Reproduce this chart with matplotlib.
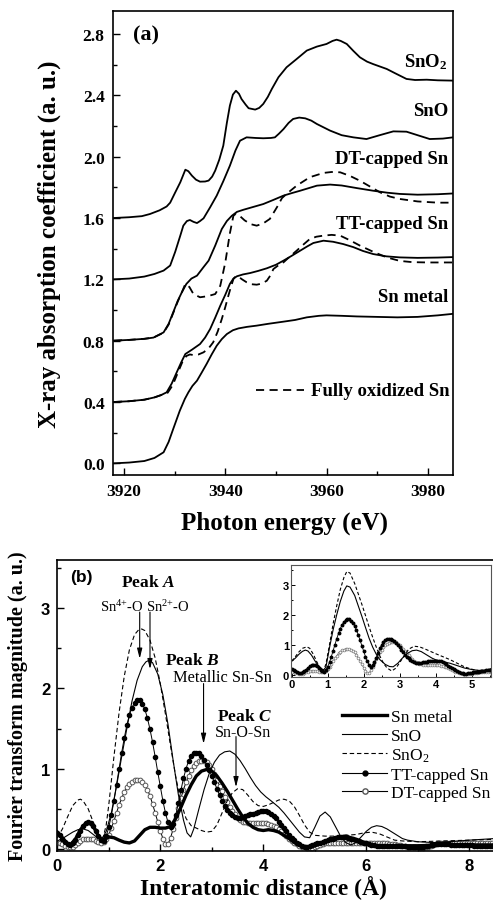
import numpy as np
import matplotlib
matplotlib.use("Agg")
import matplotlib.pyplot as plt
from matplotlib.lines import Line2D
from matplotlib.ticker import MultipleLocator

plt.rcParams['font.family'] = ['Liberation Serif', 'DejaVu Serif']
plt.rcParams['mathtext.fontset'] = 'custom'
plt.rcParams['mathtext.rm'] = 'Liberation Serif'
plt.rcParams['mathtext.it'] = 'Liberation Serif:italic'
plt.rcParams['mathtext.bf'] = 'Liberation Serif:bold'
plt.rcParams['mathtext.bfit'] = 'Liberation Serif:bold:italic'

# ---------------- panel (a): XANES, offset spectra ----------------
e_metal = [3918, 3921, 3924, 3926, 3927.8, 3928.8, 3929.7, 3931.0, 3932.0, 3932.7, 3933.5, 3934.4,
           3935.3, 3936.3, 3937.3, 3938.3, 3939.3, 3940.3, 3941.5, 3942.6, 3944.3, 3946.2, 3948.5,
           3951.5, 3953.8, 3956.1, 3958.5, 3960, 3963, 3966, 3970, 3974, 3978, 3982, 3985]
mu_metal = [0.0, 0.005, 0.015, 0.035, 0.072, 0.14, 0.224, 0.343, 0.42, 0.463, 0.505, 0.539,
            0.59, 0.648, 0.71, 0.767, 0.81, 0.843, 0.868, 0.88, 0.89, 0.898, 0.91,
            0.924, 0.935, 0.952, 0.962, 0.965, 0.962, 0.958, 0.955, 0.952, 0.955, 0.965, 0.975]

e_tt = [3918, 3921, 3924, 3926, 3927.3, 3928.4, 3929.4, 3930.4, 3931.3, 3932.1, 3933.4, 3935.0,
        3936.0, 3937.0, 3938.0, 3939.0, 3940.0, 3940.9, 3941.6, 3942.3, 3943.5, 3944.9, 3946.5,
        3948.2, 3950, 3951.5, 3953.2, 3954.8, 3956.2, 3957.4, 3959.4, 3961.3, 3963.3, 3965.3,
        3967.2, 3969.2, 3971.8, 3974.5, 3978, 3982, 3985]
mu_tt = [0.40, 0.405, 0.415, 0.43, 0.445, 0.463, 0.52, 0.594, 0.66, 0.713, 0.741, 0.778,
         0.82, 0.876, 0.95, 1.028, 1.10, 1.17, 1.205, 1.22, 1.232, 1.241, 1.255,
         1.272, 1.295, 1.322, 1.355, 1.387, 1.415, 1.437, 1.452, 1.445, 1.43, 1.41,
         1.385, 1.365, 1.35, 1.343, 1.34, 1.342, 1.345]

e_tt_ox = [3918, 3921, 3924, 3926, 3927.3, 3928.6, 3929.6, 3930.6, 3931.5, 3932.3, 3933.0, 3933.7,
           3934.7, 3935.7, 3936.7, 3937.6, 3938.5, 3939.3, 3940.0, 3940.6, 3941.1, 3941.6, 3942.0,
           3942.5, 3943.3, 3944.2, 3945.2, 3946.2, 3947.2, 3948.2, 3948.9, 3949.5, 3950.5, 3951.5,
           3952.8, 3954.1, 3955.4, 3956.7, 3958, 3959.4, 3961, 3962.7, 3964.6, 3966.6, 3969.2,
           3971.9, 3974.5, 3977, 3980, 3985]
mu_tt_ox = [0.40, 0.405, 0.415, 0.43, 0.445, 0.46, 0.51, 0.59, 0.66, 0.70, 0.71, 0.706,
            0.71, 0.724, 0.75, 0.789, 0.86, 0.941, 1.02, 1.093, 1.15, 1.202, 1.218,
            1.22, 1.20, 1.181, 1.168, 1.165, 1.172, 1.191, 1.225, 1.267, 1.292, 1.311,
            1.35, 1.387, 1.426, 1.463, 1.478, 1.485, 1.49, 1.485, 1.455, 1.42, 1.38,
            1.343, 1.32, 1.312, 1.31, 1.31]

e_dt = [3918, 3921, 3924, 3925.8, 3927.8, 3928.8, 3929.7, 3930.6, 3931.4, 3932.3, 3933.3, 3934.4,
        3935.7, 3936.7, 3938.0, 3939.3, 3940.3, 3941.3, 3942.3, 3943.6, 3945.5, 3947.5, 3949.5,
        3951.5, 3953.2, 3954.8, 3956.5, 3958.1, 3960.7, 3963, 3966, 3969.2, 3972, 3974.5, 3978,
        3982, 3985]
mu_dt = [0.80, 0.805, 0.812, 0.82, 0.854, 0.91, 0.985, 1.06, 1.115, 1.17, 1.205, 1.224,
         1.28, 1.322, 1.42, 1.528, 1.58, 1.615, 1.64, 1.654, 1.672, 1.691, 1.718,
         1.746, 1.763, 1.778, 1.795, 1.811, 1.818, 1.812, 1.795, 1.778, 1.765, 1.757, 1.752,
         1.755, 1.76]

e_dt_ox = [3918, 3921, 3924, 3925.8, 3927.8, 3928.8, 3929.7, 3930.6, 3931.4, 3932.1, 3932.9, 3933.7,
           3935.0, 3936.5, 3938.0, 3939.0, 3940.0, 3940.9, 3941.6, 3942.1, 3942.8, 3943.8, 3945,
           3946.2, 3947.5, 3948.8, 3950.2, 3951.2, 3952.1, 3954.1, 3956.7, 3959.4, 3961, 3962.7,
           3964.6, 3966.6, 3968.6, 3970.6, 3972.5, 3974.5, 3978, 3982, 3985]
mu_dt_ox = [0.80, 0.805, 0.812, 0.82, 0.852, 0.905, 0.98, 1.055, 1.115, 1.17, 1.15, 1.104,
            1.083, 1.09, 1.104, 1.158, 1.311, 1.50, 1.615, 1.628, 1.615, 1.585, 1.56,
            1.55, 1.565, 1.594, 1.67, 1.73, 1.757, 1.811, 1.866, 1.894, 1.90, 1.898,
            1.875, 1.843, 1.805, 1.767, 1.74, 1.724, 1.708, 1.70, 1.70]

e_sno = [3918, 3921, 3924, 3926, 3927.8, 3929.1, 3930.1, 3931.1, 3931.7, 3932.4, 3933.0, 3933.7,
         3934.4, 3935.0, 3935.7, 3937.0, 3938.3, 3939.6, 3940.9, 3942.0, 3942.9, 3944.2, 3946,
         3947.5, 3949.0, 3949.8, 3950.6, 3951.5, 3952.5, 3953.4, 3954.6, 3955.8, 3957, 3958.1,
         3960.7, 3963, 3965.3, 3967.9, 3970.5, 3973.2, 3975.8, 3978, 3980.4, 3983, 3985]
mu_sno = [1.20, 1.205, 1.218, 1.235, 1.257, 1.29, 1.38, 1.485, 1.55, 1.58, 1.587, 1.575,
          1.567, 1.58, 1.598, 1.67, 1.746, 1.84, 1.941, 2.04, 2.104, 2.126, 2.122,
          2.12, 2.122, 2.126, 2.15, 2.18, 2.22, 2.246, 2.255, 2.25, 2.235, 2.213,
          2.17, 2.14, 2.126, 2.115, 2.14, 2.165, 2.163, 2.14, 2.115, 2.118, 2.126]

e_sno2 = [3918, 3921, 3923.5, 3925.1, 3927, 3928.4, 3929.1, 3930.1, 3931.1, 3932.1, 3932.7, 3933.4,
          3934.2, 3935.0, 3936.0, 3936.7, 3937.4, 3938.0, 3938.8, 3939.6, 3940.3, 3940.9, 3941.5,
          3942.1, 3942.7, 3943.2, 3944.0, 3944.6, 3945.9, 3946.7, 3947.5, 3948.4, 3949.2, 3950.5,
          3952.1, 3954.1, 3956.1, 3958.1, 3960.0, 3961.2, 3962, 3962.8, 3964, 3965.3, 3966.6,
          3968, 3969.2, 3971.9, 3973.5, 3975.8, 3977.5, 3979.8, 3982, 3985]
mu_sno2 = [1.60, 1.605, 1.612, 1.626, 1.65, 1.675, 1.70, 1.767, 1.833, 1.915, 1.905, 1.876,
           1.85, 1.837, 1.838, 1.844, 1.87, 1.909, 1.98, 2.072, 2.22, 2.333, 2.405,
           2.43, 2.41, 2.376, 2.34, 2.316, 2.307, 2.318, 2.344, 2.39, 2.442, 2.518,
           2.583, 2.637, 2.692, 2.718, 2.735, 2.755, 2.763, 2.755, 2.735, 2.69, 2.648,
           2.62, 2.604, 2.572, 2.545, 2.507, 2.50, 2.502, 2.498, 2.496]

names_a = ['SnO$_\\mathbf{2}$', 'SnO', 'DT-capped Sn', 'TT-capped Sn', 'Sn metal']
label_y_a = [2.62, 2.30, 1.985, 1.567, 1.09]

# ---------------- panel (b): Fourier transforms ----------------
r_metal = [0.0, 0.1, 0.2, 0.25, 0.35, 0.45, 0.55, 0.62, 0.7, 0.8, 0.88, 0.95, 1.0, 1.1, 1.2, 1.3,
           1.4, 1.5, 1.6, 1.7, 1.8, 1.9, 2.0, 2.1, 2.2, 2.3, 2.4, 2.5, 2.6, 2.7, 2.8, 2.9, 3.0,
           3.1, 3.2, 3.3, 3.4, 3.5, 3.6, 3.7, 3.8, 3.9, 4.0, 4.1, 4.2, 4.3, 4.4, 4.5, 4.6, 4.7,
           4.8, 4.9, 5.0, 5.2, 5.4, 5.6, 5.8, 6.0, 6.2, 6.4, 6.6, 6.8, 7.0, 7.5, 8.0, 8.5]
ft_metal = [0.21, 0.14, 0.06, 0.05, 0.12, 0.24, 0.32, 0.33, 0.28, 0.16, 0.11, 0.13, 0.15, 0.14,
            0.11, 0.085, 0.075, 0.10, 0.17, 0.24, 0.27, 0.27, 0.26, 0.26, 0.28, 0.38, 0.52,
            0.67, 0.80, 0.91, 0.97, 0.99, 0.97, 0.91, 0.82, 0.72, 0.61, 0.50, 0.40, 0.32, 0.27,
            0.24, 0.23, 0.24, 0.23, 0.21, 0.17, 0.13, 0.08, 0.05, 0.03, 0.02, 0.04, 0.09, 0.14,
            0.16, 0.12, 0.07, 0.03, 0.02, 0.03, 0.04, 0.04, 0.05, 0.05, 0.05]

r_sno = [0.0, 0.1, 0.2, 0.3, 0.4, 0.5, 0.6, 0.7, 0.8, 0.86, 0.95, 1.05, 1.15, 1.25, 1.35, 1.45,
         1.55, 1.65, 1.72, 1.78, 1.85, 1.95, 2.05, 2.15, 2.25, 2.35, 2.45, 2.52, 2.59, 2.65,
         2.75, 2.85, 2.95, 3.05, 3.15, 3.25, 3.35, 3.45, 3.55, 3.65, 3.75, 3.85, 3.95, 4.05,
         4.15, 4.3, 4.4, 4.5, 4.6, 4.7, 4.8, 4.9, 5.0, 5.1, 5.2, 5.3, 5.4, 5.5, 5.6, 5.7, 5.8,
         5.9, 6.0, 6.1, 6.2, 6.3, 6.4, 6.5, 6.6, 6.7, 6.8, 7.0, 7.3, 7.6, 8.0, 8.5]
ft_sno = [0.10, 0.13, 0.17, 0.21, 0.24, 0.25, 0.23, 0.18, 0.13, 0.12, 0.22, 0.45, 0.78, 1.15,
          1.50, 1.84, 2.10, 2.27, 2.33, 2.35, 2.32, 2.18, 1.92, 1.55, 1.10, 0.68, 0.36, 0.20,
          0.15, 0.25, 0.50, 0.74, 0.94, 1.08, 1.17, 1.21, 1.22, 1.18, 1.10, 1.00, 0.89, 0.79,
          0.71, 0.65, 0.60, 0.52, 0.45, 0.37, 0.29, 0.21, 0.15, 0.14, 0.27, 0.41, 0.46, 0.40,
          0.28, 0.16, 0.08, 0.05, 0.08, 0.15, 0.22, 0.27, 0.29, 0.28, 0.25, 0.21, 0.17, 0.13,
          0.11, 0.09, 0.08, 0.09, 0.11, 0.13]

r_sno2 = [0.0, 0.1, 0.2, 0.3, 0.4, 0.45, 0.5, 0.6, 0.7, 0.8, 0.88, 0.95, 1.0, 1.05, 1.1, 1.2,
          1.3, 1.4, 1.5, 1.58, 1.64, 1.7, 1.8, 1.9, 2.0, 2.1, 2.2, 2.3, 2.4, 2.5, 2.6, 2.7,
          2.8, 2.9, 3.0, 3.1, 3.2, 3.3, 3.4, 3.5, 3.6, 3.7, 3.8, 3.9, 4.0, 4.1, 4.2, 4.3, 4.4,
          4.5, 4.6, 4.7, 4.8, 4.9, 5.0, 5.2, 5.4, 5.6, 5.8, 5.95, 6.1, 6.25, 6.4, 6.55, 6.7,
          7.0, 7.5, 8.0, 8.5]
ft_sno2 = [0.14, 0.25, 0.40, 0.54, 0.61, 0.62, 0.60, 0.50, 0.33, 0.17, 0.11, 0.30, 0.55, 0.85,
           1.15, 1.70, 2.15, 2.48, 2.67, 2.73, 2.74, 2.72, 2.60, 2.38, 2.06, 1.68, 1.28, 0.90,
           0.58, 0.38, 0.29, 0.26, 0.23, 0.21, 0.22, 0.30, 0.45, 0.60, 0.70, 0.75, 0.74, 0.67,
           0.59, 0.54, 0.53, 0.55, 0.58, 0.61, 0.62, 0.60, 0.53, 0.42, 0.30, 0.21, 0.17, 0.16,
           0.16, 0.17, 0.18, 0.20, 0.21, 0.19, 0.15, 0.11, 0.10, 0.09, 0.10, 0.11, 0.12]

# TT and DT sampled every 0.05 A from 0 to 8.5
r_step = 0.05
ft_tt = [0.20, 0.17, 0.13, 0.09, 0.06, 0.05, 0.07, 0.11, 0.17, 0.23,
         0.28, 0.32, 0.33, 0.32, 0.28, 0.22, 0.16, 0.11, 0.10, 0.16,
         0.27, 0.42, 0.60, 0.80, 1.00, 1.20, 1.38, 1.54, 1.67, 1.76,
         1.82, 1.85, 1.85, 1.81, 1.74, 1.63, 1.49, 1.33, 1.15, 0.96,
         0.78, 0.60, 0.45, 0.33, 0.27, 0.31, 0.42, 0.57, 0.73, 0.88,
         1.00, 1.10, 1.16, 1.19, 1.20, 1.19, 1.16, 1.11, 1.05, 0.98,
         0.91, 0.83, 0.75, 0.67, 0.60, 0.54, 0.49, 0.45, 0.42, 0.40,
         0.39, 0.39, 0.40, 0.41, 0.42, 0.43, 0.44, 0.45, 0.46, 0.47,
         0.47, 0.47, 0.46, 0.44, 0.41, 0.38, 0.34, 0.30, 0.26, 0.22,
         0.18, 0.14, 0.11, 0.08, 0.06, 0.04, 0.03, 0.03, 0.04, 0.05,
         0.06, 0.07, 0.08, 0.09, 0.10, 0.11, 0.12, 0.13, 0.14, 0.15,
         0.15, 0.15, 0.15, 0.14, 0.13, 0.12, 0.11, 0.10, 0.09, 0.08,
         0.07, 0.06, 0.05, 0.05, 0.04, 0.04, 0.04, 0.04, 0.04, 0.04,
         0.04, 0.04, 0.04, 0.04, 0.04, 0.04, 0.03, 0.03, 0.03, 0.03,
         0.03, 0.03, 0.03, 0.04, 0.04, 0.05, 0.05, 0.06, 0.06, 0.06,
         0.06, 0.06, 0.06, 0.05, 0.05, 0.05, 0.05, 0.05, 0.05, 0.05,
         0.05, 0.05, 0.04, 0.04, 0.04, 0.04, 0.04, 0.04, 0.04, 0.04,
         0.04]
ft_dt = [0.07, 0.07, 0.06, 0.04, 0.03, 0.02, 0.03, 0.05, 0.08, 0.10,
         0.12, 0.13, 0.13, 0.13, 0.12, 0.10, 0.09, 0.08, 0.09, 0.12,
         0.18, 0.26, 0.35, 0.45, 0.55, 0.63, 0.71, 0.77, 0.81, 0.84,
         0.86, 0.86, 0.86, 0.84, 0.80, 0.74, 0.66, 0.56, 0.45, 0.34,
         0.23, 0.13, 0.06, 0.06, 0.14, 0.25, 0.38, 0.51, 0.63, 0.74,
         0.83, 0.91, 0.98, 1.03, 1.07, 1.09, 1.10, 1.10, 1.08, 1.04,
         0.99, 0.93, 0.86, 0.79, 0.72, 0.65, 0.58, 0.52, 0.47, 0.43,
         0.39, 0.36, 0.34, 0.33, 0.32, 0.32, 0.32, 0.32, 0.32, 0.32,
         0.32, 0.32, 0.31, 0.30, 0.29, 0.27, 0.25, 0.22, 0.19, 0.16,
         0.13, 0.10, 0.08, 0.06, 0.04, 0.03, 0.02, 0.01, 0.01, 0.01,
         0.02, 0.04, 0.05, 0.06, 0.07, 0.07, 0.08, 0.08, 0.08, 0.08,
         0.08, 0.08, 0.08, 0.08, 0.08, 0.08, 0.08, 0.08, 0.08, 0.08,
         0.08, 0.08, 0.08, 0.07, 0.07, 0.07, 0.07, 0.07, 0.07, 0.06,
         0.06, 0.06, 0.05, 0.05, 0.04, 0.04, 0.03, 0.03, 0.02, 0.02,
         0.02, 0.01, 0.01, 0.02, 0.03, 0.04, 0.05, 0.06, 0.07, 0.07,
         0.08, 0.08, 0.08, 0.08, 0.08, 0.08, 0.07, 0.07, 0.07, 0.07,
         0.07, 0.07, 0.07, 0.07, 0.07, 0.07, 0.07, 0.08, 0.08, 0.08,
         0.08]
r_grid = np.arange(len(ft_tt)) * r_step

# inset: SnO and SnO2 with another normalisation
r_in_sno = [0.0, 0.1, 0.2, 0.3, 0.38, 0.45, 0.55, 0.65, 0.75, 0.88, 0.95, 1.05, 1.15, 1.25, 1.35,
            1.45, 1.53, 1.62, 1.75, 1.85, 1.95, 2.05, 2.15, 2.25, 2.35, 2.45, 2.6, 2.72, 2.82,
            2.95, 3.05, 3.2, 3.35, 3.47, 3.6, 3.75, 3.9, 4.05, 4.2, 4.4, 4.6, 4.8, 5.0, 5.2,
            5.4, 5.55]
ft_in_sno = [0.45, 0.55, 0.68, 0.78, 0.82, 0.79, 0.65, 0.45, 0.28, 0.15, 0.25, 0.90, 1.50, 2.00,
             2.45, 2.80, 2.97, 2.93, 2.65, 2.30, 1.95, 1.58, 1.22, 0.92, 0.68, 0.50, 0.34,
             0.27, 0.26, 0.38, 0.52, 0.70, 0.80, 0.82, 0.77, 0.66, 0.55, 0.47, 0.43, 0.38,
             0.30, 0.22, 0.17, 0.14, 0.15, 0.20]
r_in_sno2 = [0.0, 0.1, 0.2, 0.3, 0.42, 0.5, 0.6, 0.7, 0.8, 0.88, 0.95, 1.05, 1.15, 1.25, 1.35,
             1.45, 1.53, 1.62, 1.75, 1.85, 1.95, 2.05, 2.15, 2.25, 2.35, 2.45, 2.55, 2.65, 2.78,
             2.9, 3.0, 3.12, 3.25, 3.4, 3.55, 3.7, 3.85, 4.0, 4.2, 4.4, 4.6, 4.8, 4.95, 5.1,
             5.3, 5.55]
ft_in_sno2 = [0.45, 0.60, 0.76, 0.88, 0.93, 0.88, 0.68, 0.42, 0.20, 0.12, 0.35, 1.00, 1.70, 2.30,
              2.85, 3.25, 3.45, 3.40, 3.05, 2.70, 2.35, 1.98, 1.60, 1.25, 0.92, 0.62, 0.38,
              0.22, 0.12, 0.22, 0.40, 0.62, 0.85, 0.95, 0.93, 0.86, 0.78, 0.70, 0.60, 0.50,
              0.38, 0.26, 0.20, 0.15, 0.12, 0.15]

fig = plt.figure(figsize=(4.93, 9.03), dpi=100)

# ======== panel (a) ========
ax1 = fig.add_axes([0.2292, 0.4729, 0.6897, 0.5138])
lw_a = 1.3
dash_a = (0, (4.5, 3))
ax1.plot(e_metal, mu_metal, color='black', lw=lw_a)
ax1.plot(e_tt, mu_tt, color='black', lw=lw_a)
ax1.plot(e_tt_ox, mu_tt_ox, color='black', lw=lw_a, ls=dash_a)
ax1.plot(e_dt, mu_dt, color='black', lw=lw_a)
ax1.plot(e_dt_ox, mu_dt_ox, color='black', lw=lw_a, ls=dash_a)
ax1.plot(e_sno, mu_sno, color='black', lw=lw_a)
ax1.plot(e_sno2, mu_sno2, color='black', lw=lw_a)

ax1.set_xlim(3917.8, 3985)
ax1.set_ylim(-0.076, 2.95)
ax1.xaxis.set_major_locator(MultipleLocator(20))
ax1.xaxis.set_minor_locator(MultipleLocator(10))
ax1.yaxis.set_major_locator(MultipleLocator(0.4))
ax1.yaxis.set_minor_locator(MultipleLocator(0.2))
ax1.yaxis.set_major_formatter(matplotlib.ticker.FormatStrFormatter('%.1f'))
ax1.tick_params(which='both', direction='in', width=1.0)
ax1.tick_params(which='major', length=5, labelsize=12.5, pad=6)
ax1.tick_params(which='minor', length=3)
for lab in ax1.get_xticklabels() + ax1.get_yticklabels():
    lab.set_fontweight('bold')
for sp in ax1.spines.values():
    sp.set_linewidth(1.2)

for name, yy in zip(names_a, label_y_a):
    ax1.text(3984, yy, name, ha='right', va='center', fontsize=13.5, fontweight='bold')
ax1.text(3921.8, 2.8, '(a)', ha='left', va='center', fontsize=16, fontweight='bold')
ax1.plot([3946.1, 3955.6], [0.478, 0.478], color='black', lw=lw_a, ls=dash_a)
ax1.text(3956.9, 0.478, 'Fully oxidized Sn', ha='left', va='center', fontsize=13.5,
         fontweight='bold')

ax1.set_xlabel('Photon energy (eV)', fontsize=18, fontweight='bold')
ax1.set_ylabel('X-ray absorption coefficient (a. u.)', fontsize=18, fontweight='bold')
ax1.xaxis.set_label_coords(0.503, -0.101)
ax1.yaxis.set_label_coords(-0.188, 0.5)
ax1.xaxis.label.set_va('center')
ax1.yaxis.label.set_va('center')

# ======== panel (b) ========
ax2 = fig.add_axes([0.1162, 0.0565, 0.888, 0.3223])
ax2.plot(r_grid, ft_dt, color='black', lw=0.7, marker='o', ms=3.4, mfc='white',
         mec='#555555', mew=0.7)
ax2.plot(r_grid, ft_tt, color='black', lw=0.7, marker='o', ms=3.0, mfc='black', mec='black')
ax2.plot(r_sno2, ft_sno2, color='black', lw=0.8, ls=(0, (4, 2.5)))
ax2.plot(r_sno, ft_sno, color='black', lw=0.8)
ax2.plot(r_metal, ft_metal, color='black', lw=2.4)

ax2.set_xlim(0, 8.5)
ax2.set_ylim(-0.025, 3.6)
ax2.xaxis.set_major_locator(MultipleLocator(2))
ax2.xaxis.set_minor_locator(MultipleLocator(1))
ax2.yaxis.set_major_locator(MultipleLocator(1))
ax2.yaxis.set_minor_locator(MultipleLocator(0.5))
ax2.tick_params(which='both', direction='in', width=1.0)
ax2.tick_params(which='major', length=5, labelsize=12, pad=5)
ax2.tick_params(which='minor', length=3)
for lab in ax2.get_xticklabels() + ax2.get_yticklabels():
    lab.set_fontfamily('Liberation Sans')
    lab.set_fontweight('bold')
for sp in ax2.spines.values():
    sp.set_linewidth(1.2)

ax2.set_xlabel('Interatomic distance (\u00c5)', fontsize=17, fontweight='bold')
ax2.set_ylabel('Fourier transform magnitude (a. u.)', fontsize=14.5, fontweight='bold')
ax2.xaxis.set_label_coords(0.472, -0.124)
ax2.yaxis.set_label_coords(-0.09, 0.5)
ax2.xaxis.label.set_va('center')
ax2.yaxis.label.set_va('center')

ax2.text(0.25, 3.4, '(b)', ha='left', va='center', fontsize=12.5, fontweight='bold',
         family='Liberation Sans')
ax2.text(1.76, 3.33, 'Peak $\\mathbfit{A}$', ha='center', va='center', fontsize=12.5,
         fontweight='bold')
ax2.text(1.25, 3.03, 'Sn$^{4{+}}$-O', ha='center', va='center', fontsize=10.5)
ax2.text(2.15, 3.03, 'Sn$^{2{+}}$-O', ha='center', va='center', fontsize=10.5)
ax2.text(2.61, 2.35, 'Peak $\\mathbfit{B}$', ha='center', va='center', fontsize=12.5,
         fontweight='bold')
ax2.text(3.2, 2.14, 'Metallic Sn-Sn', ha='center', va='center', fontsize=11.8)
ax2.text(3.63, 1.66, 'Peak $\\mathbfit{C}$', ha='center', va='center', fontsize=12.5,
         fontweight='bold')
ax2.text(3.61, 1.455, 'Sn-O-Sn', ha='center', va='center', fontsize=11.5)

arrow_kw = dict(arrowstyle='-|>,head_length=0.6,head_width=0.15', color='black', lw=0.8,
                shrinkA=0, shrinkB=0)
ax2.annotate('', xy=(1.6, 2.37), xytext=(1.6, 2.95), arrowprops=arrow_kw)
ax2.annotate('', xy=(1.8, 2.24), xytext=(1.8, 2.95), arrowprops=arrow_kw)
ax2.annotate('', xy=(2.84, 1.31), xytext=(2.84, 2.06), arrowprops=arrow_kw)
ax2.annotate('', xy=(3.47, 0.77), xytext=(3.47, 1.40), arrowprops=arrow_kw)

handles = [
    Line2D([], [], color='black', lw=2.4),
    Line2D([], [], color='black', lw=0.8),
    Line2D([], [], color='black', lw=0.8, ls=(0, (4, 2.5))),
    Line2D([], [], color='black', lw=0.8, marker='o', ms=3.5, mfc='black'),
    Line2D([], [], color='black', lw=0.8, marker='o', ms=3.8, mfc='white', mec='#555555'),
]
leg_labels = ['Sn metal', 'SnO', 'SnO$_2$', 'TT-capped Sn', 'DT-capped Sn']
fig.legend(handles, leg_labels, loc='upper left', bbox_to_anchor=(342 / 493, 1 - 710 / 903),
           frameon=False, fontsize=12.5, handlelength=2.6, handletextpad=0.2,
           labelspacing=0.15, borderpad=0, borderaxespad=0, numpoints=1)

# ======== inset ========
ax3 = fig.add_axes([0.5903, 0.2492, 0.4057, 0.124])
ax3.plot(r_grid, ft_dt, color='#666666', lw=0.6, marker='o', ms=2.0, mfc='white',
         mec='#777777', mew=0.5)
ax3.plot(r_grid, ft_tt, color='black', lw=0.6, marker='o', ms=1.8, mfc='black', mec='black')
ax3.plot(r_in_sno2, ft_in_sno2, color='black', lw=0.8, ls=(0, (3, 2)))
ax3.plot(r_in_sno, ft_in_sno, color='black', lw=0.8)
ax3.set_xlim(-0.02, 5.54)
ax3.set_ylim(-0.08, 3.67)
ax3.xaxis.set_major_locator(MultipleLocator(1))
ax3.xaxis.set_minor_locator(MultipleLocator(0.5))
ax3.yaxis.set_major_locator(MultipleLocator(1))
ax3.yaxis.set_minor_locator(MultipleLocator(0.5))
ax3.tick_params(which='both', direction='in', width=0.7, pad=1.5)
ax3.tick_params(which='major', length=3, labelsize=8)
ax3.tick_params(which='minor', length=1.5)
for lab in ax3.get_xticklabels() + ax3.get_yticklabels():
    lab.set_fontfamily('Liberation Sans')
    lab.set_fontweight('bold')
for sp in ax3.spines.values():
    sp.set_linewidth(0.8)
    sp.set_color('#555555')

fig.savefig('out.png', dpi=100)
